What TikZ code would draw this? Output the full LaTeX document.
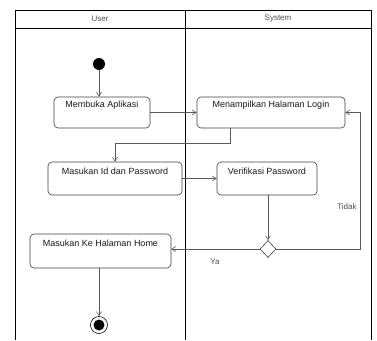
\documentclass[tikz,border=0pt]{standalone}
\usepackage{fontspec}
\setmainfont{Liberation Sans}
\usetikzlibrary{arrows.meta,shapes.geometric}
\begin{document}
\begin{tikzpicture}[x=1pt,y=-1pt,
  act/.style={draw=black!75,rounded corners=4pt,line width=0.6pt,fill=white,inner sep=0pt},
  acttext/.style={font=\fontsize{9}{10}\selectfont,text=black!90},
  flow/.style={draw=black!65,line width=0.6pt,-{Straight Barb[length=4pt,width=5pt]}},
  lane/.style={draw=black,line width=0.9pt},
  lbl/.style={font=\fontsize{8}{9}\selectfont,text=black!70}]
\useasboundingbox (0,0) rectangle (377,340);
% swimlanes
\draw[lane] (15,340) -- (15,10) -- (371,10) -- (371,340);
\draw[lane] (15,28) -- (371,28);
\draw[lane] (185,10) -- (185,340);
\node[lbl] (hu) at (100,19) {User};
\node[lbl] (hs) at (278,19) {System};
% nodes
\node[circle,fill=black,minimum size=12pt,inner sep=0pt] (start) at (99,64) {};
\node[act,minimum width=96pt,minimum height=31pt] (b1) at (102,112.5) {};
\node[acttext] (t1) at (102,105) {Membuka Aplikasi};
\node[act,minimum width=148pt,minimum height=31pt] (b2) at (271,112.5) {};
\node[acttext] (t2) at (271,105) {Menampilkan Halaman Login};
\node[act,minimum width=134pt,minimum height=33pt] (b3) at (115,178.5) {};
\node[acttext] (t3) at (115,171) {Masukan Id dan Password};
\node[act,minimum width=100pt,minimum height=33pt] (b4) at (267,178.5) {};
\node[acttext] (t4) at (267,171) {Verifikasi Password};
\node[draw=black!75,diamond,line width=0.6pt,minimum width=16pt,minimum height=17pt,inner sep=0pt,fill=white] (d) at (268,249) {};
\node[act,minimum width=141pt,minimum height=34pt] (b5) at (100.5,251) {};
\node[acttext] (t5) at (100.5,243) {Masukan Ke Halaman Home};
\node[circle,draw=black,line width=0.6pt,minimum size=17pt,inner sep=0pt] (end) at (99,325) {};
\node[circle,fill=black,minimum size=11pt,inner sep=0pt] (endc) at (end) {};
% edges
\draw[flow] (start) -- (b1.north -| start);
\draw[flow] (b1.east) -- (b2.west);
\draw[flow] (b2.south -| 230,0) -- (230,143) -- (115,143) -- (b3.north);
\draw[flow] (b3.east) -- (b4.west);
\draw[flow] (b4.south -| d) -- (d.north);
\draw[flow] (d.west) -- (b5.east |- d.west);
\draw[flow] (d.east) -- (360,249) -- (360,112.5) -- (b2.east);
\draw[flow] (b5.south -| end) -- (end.north);
\node[lbl] (t) at (347,207) {Tidak};
\node[lbl] (y) at (215,262) {Ya};
\end{tikzpicture}
\end{document}
